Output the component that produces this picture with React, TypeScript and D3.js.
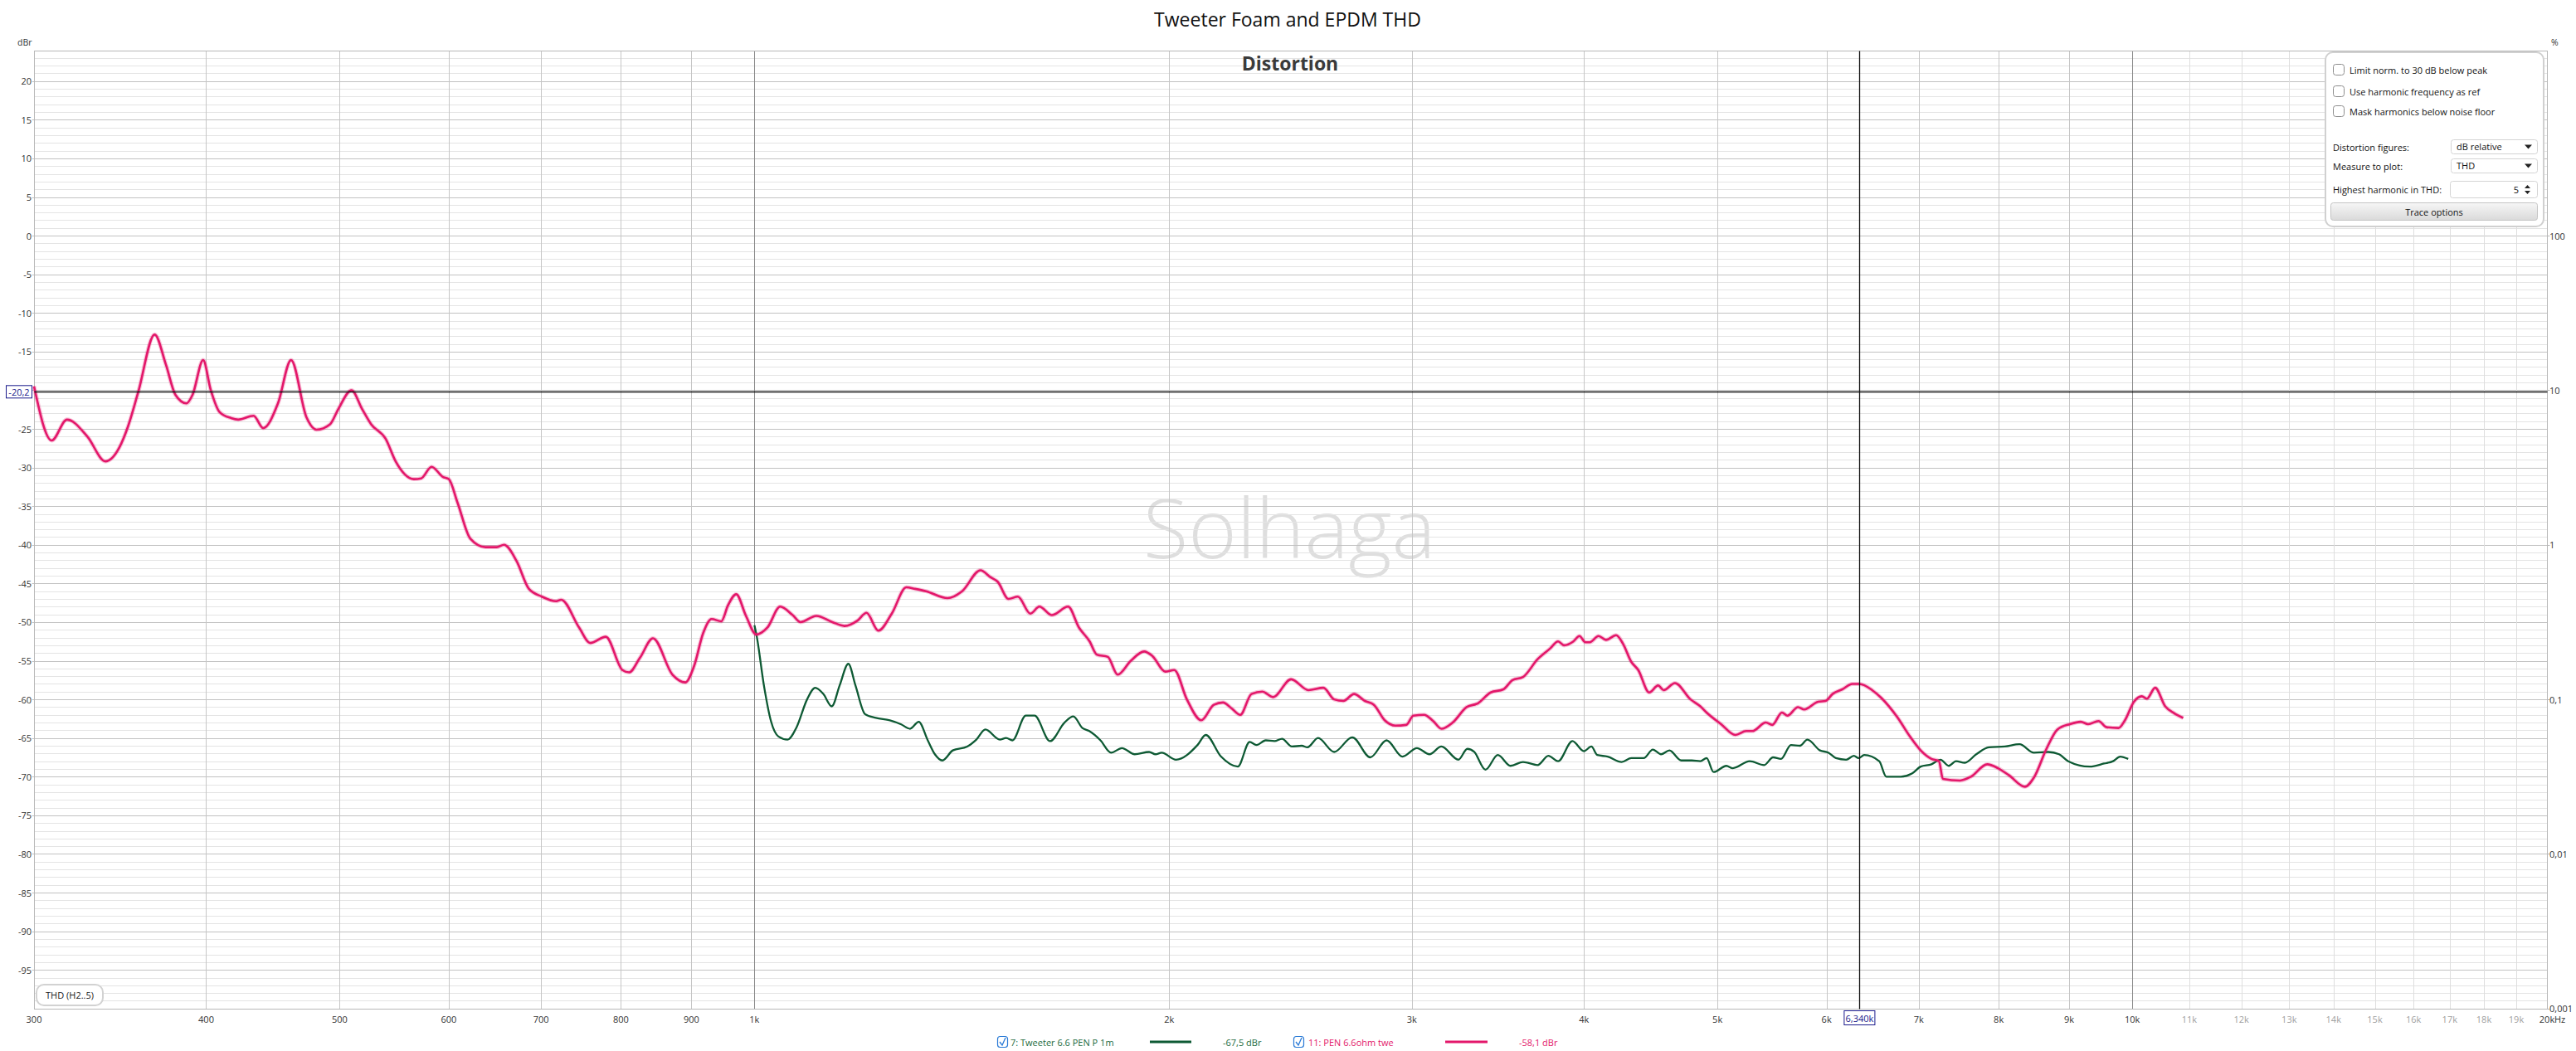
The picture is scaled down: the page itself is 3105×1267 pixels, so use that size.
import React from 'react';
import * as d3 from 'd3';

// REW-style THD plot: two traces, dBr on the left, % on the right

const W = 3105;
const H = 1267;
const FONT = '"Segoe UI", "Open Sans", "Noto Sans", sans-serif';

// 11: PEN 6.6ohm twe (pink)
const pinkFreq = [
  300, 309, 317, 328, 338, 346, 351, 357, 367, 374, 380, 387, 391, 398, 403, 409, 417, 422, 433, 440,
  451, 461, 473, 481, 492, 499, 510, 519, 527, 540, 549, 566, 573, 583, 594, 600, 609, 622, 638, 650,
  658, 672, 686, 701, 718, 724, 746, 760, 780, 802, 811, 826, 844, 872, 891, 904, 918, 931, 946, 957,
  970, 986, 1003, 1022, 1044, 1066, 1080, 1109, 1139, 1163, 1188, 1206, 1230, 1258, 1289, 1308, 1332, 1381, 1415, 1459,
  1484, 1502, 1529, 1553, 1586, 1610, 1644, 1689, 1720, 1751, 1772, 1805, 1835, 1876, 1918, 1945, 1987, 2017, 2060, 2110,
  2155, 2188, 2221, 2252, 2295, 2337, 2379, 2452, 2524, 2588, 2635, 2676, 2724, 2774, 2816, 2867, 2919, 2972, 3008, 3062,
  3109, 3152, 3212, 3288, 3351, 3423, 3496, 3550, 3613, 3702, 3781, 3831, 3870, 3930, 3970, 4010, 4040, 4099, 4150, 4221,
  4270, 4328, 4380, 4461, 4528, 4570, 4657, 4780, 4859, 4910, 5030, 5152, 5246, 5300, 5421, 5480, 5569, 5620, 5720, 5780,
  5916, 5990, 6061, 6160, 6264, 6340, 6475, 6574, 6753, 6897, 7022, 7150, 7240, 7288, 7500, 7637, 7848, 7990, 8136, 8359,
  8486, 8665, 8825, 9012, 9175, 9290, 9452, 9580, 9774, 9880, 10029, 10161, 10250, 10391, 10567, 10727, 10889,
];
const pinkDb = [
  -19.5, -26.5, -23.8, -26.0, -29.2, -27.4, -24.7, -20.3, -12.8, -16.7, -20.6, -21.7, -20.6, -16.1, -19.9, -22.8, -23.6, -23.8, -23.3, -24.9,
  -21.7, -16.1, -23.5, -25.1, -24.4, -22.4, -20.0, -22.4, -24.4, -26.3, -29.2, -31.5, -31.4, -29.9, -31.2, -31.5, -34.6, -39.2, -40.3, -40.3,
  -40.0, -42.1, -45.7, -46.7, -47.3, -47.1, -50.7, -52.7, -51.9, -56.2, -56.5, -54.6, -52.1, -56.8, -57.8, -55.7, -51.4, -49.6, -49.9, -47.8,
  -46.4, -49.2, -51.6, -50.7, -48.0, -49.1, -50.0, -49.2, -50.0, -50.5, -49.8, -48.8, -51.1, -48.9, -45.5, -45.7, -46.0, -46.9, -46.0, -43.3,
  -44.2, -44.8, -47.0, -46.7, -48.9, -48.0, -49.1, -48.0, -50.7, -52.5, -54.2, -54.5, -56.8, -55.0, -53.8, -54.4, -56.4, -56.2, -60.0, -62.7,
  -60.7, -60.4, -61.2, -62.0, -59.3, -59.0, -59.7, -57.4, -58.8, -58.5, -60.0, -60.2, -59.3, -60.2, -60.7, -62.7, -63.4, -63.3, -62.1, -62.0,
  -62.8, -63.8, -63.0, -61.0, -60.5, -59.1, -58.7, -57.5, -57.1, -54.8, -53.4, -52.5, -53.0, -52.5, -51.8, -52.6, -52.6, -51.8, -52.3, -51.7,
  -52.8, -55.1, -56.2, -59.1, -58.2, -58.8, -57.9, -60.0, -60.9, -61.7, -63.2, -64.6, -64.1, -64.1, -63.0, -63.3, -61.7, -62.1, -61.0, -61.3,
  -60.3, -60.2, -59.3, -58.7, -58.0, -58.0, -58.8, -59.8, -62.3, -64.8, -66.6, -67.7, -68.0, -70.3, -70.5, -70.0, -68.4, -68.9, -69.8, -71.3,
  -70.1, -66.4, -63.9, -63.2, -62.9, -63.2, -62.8, -63.6, -63.7, -62.7, -60.3, -59.6, -59.9, -58.5, -60.9, -61.8, -62.4,
];

// 7: Tweeter 6.6 PEN P 1m (green)
const greenFreq = [
  1000, 1004, 1016, 1028, 1041, 1057, 1073, 1092, 1107, 1122, 1138, 1153, 1170, 1184, 1203, 1225, 1254, 1277, 1297, 1316,
  1336, 1352, 1369, 1393, 1427, 1449, 1471, 1507, 1523, 1539, 1574, 1597, 1639, 1679, 1704, 1730, 1750, 1783, 1815, 1848,
  1888, 1934, 1955, 1975, 2023, 2097, 2126, 2181, 2243, 2288, 2314, 2350, 2385, 2415, 2455, 2496, 2520, 2565, 2635, 2716,
  2799, 2876, 2954, 3026, 3090, 3152, 3243, 3292, 3330, 3393, 3464, 3538, 3613, 3702, 3769, 3831, 3924, 4000, 4050, 4090,
  4162, 4260, 4330, 4420, 4488, 4550, 4614, 4707, 4790, 4859, 4910, 4968, 5075, 5130, 5277, 5406, 5487, 5560, 5654, 5740,
  5811, 5934, 6020, 6095, 6200, 6280, 6330, 6390, 6552, 6630, 6793, 6920, 7022, 7150, 7258, 7360, 7450, 7560, 7706, 7869,
  8084, 8283, 8486, 8692, 8850, 8986, 9315, 9541, 9685, 9802, 9933,
];
const greenDb = [
  -50.4, -51.9, -58.2, -62.8, -64.8, -65.2, -63.6, -60.0, -58.5, -59.3, -60.9, -58.2, -55.4, -58.2, -61.9, -62.4, -62.7, -63.2, -63.8, -62.9,
  -65.3, -67.1, -67.9, -66.6, -66.1, -65.2, -63.9, -65.2, -65.0, -65.3, -62.1, -62.1, -65.4, -63.0, -62.2, -63.7, -64.1, -65.3, -66.9, -66.3,
  -67.1, -66.8, -67.1, -66.9, -67.8, -65.9, -64.6, -67.4, -68.7, -65.5, -65.9, -65.3, -65.4, -65.1, -66.1, -66.0, -66.2, -65.0, -66.8, -64.9,
  -67.5, -65.3, -67.4, -66.3, -67.1, -66.1, -67.8, -66.4, -66.8, -69.1, -67.2, -68.6, -68.1, -68.5, -67.3, -68.0, -65.4, -66.7, -66.1, -67.2,
  -67.4, -68.1, -67.6, -67.6, -66.5, -67.1, -66.6, -67.9, -67.9, -68.0, -67.6, -69.4, -68.6, -68.9, -68.0, -68.5, -67.5, -67.7, -65.9, -66.0,
  -65.2, -66.6, -66.9, -67.6, -67.8, -67.3, -67.6, -67.2, -68.0, -70.0, -70.0, -69.6, -68.7, -68.4, -67.8, -68.6, -68.0, -68.2, -67.1, -66.2,
  -66.1, -65.8, -66.9, -66.8, -67.1, -68.0, -68.7, -68.3, -68.0, -67.4, -67.7,
];

// axis ticks
const dbTicks = [20, 15, 10, 5, 0, -5, -10, -15, -20, -25, -30, -35, -40, -45, -50, -55, -60, -65, -70, -75, -80, -85, -90, -95];
const freqTicks = [
  300, 400, 500, 600, 700, 800, 900, 1000, 2000, 3000, 4000, 5000, 6000, 7000, 8000, 9000, 10000,
  11000, 12000, 13000, 14000, 15000, 16000, 17000, 18000, 19000, 20000,
];
const freqLabels = [
  '300', '400', '500', '600', '700', '800', '900', '1k', '2k', '3k', '4k', '5k', '6k', '7k', '8k', '9k', '10k',
  '11k', '12k', '13k', '14k', '15k', '16k', '17k', '18k', '19k', '20k',
];
const pctTicks = [100, 10, 1, 0.1, 0.01, 0.001];
const pctLabels = ['100', '10', '1', '0,1', '0,01', '0,001'];

const cursorFreq = 6340;
const cursorDb = -20.2;

const PINK = '#e3176a';
const GREEN = '#0e5a34';

const crisp = (v: number) => Math.round(v) + 0.5;

function Checkbox({ x, y }: { x: number; y: number }) {
  return <rect x={x + 0.5} y={y + 0.5} width={13} height={13} rx={3} fill="#fff" stroke="#8c8c8c" strokeWidth={1} />;
}

function Dropdown({ x, y, w, h, label }: { x: number; y: number; w: number; h: number; label: string }) {
  return (
    <g>
      <rect x={x + 0.5} y={y + 0.5} width={w} height={h} rx={3} fill="#fff" stroke="#d4d4d4" />
      <text x={x + 7} y={y + h / 2} dominantBaseline="central" fontSize={11} fill="#111">{label}</text>
      <path d={`M${x + w - 15},${y + h / 2 - 2} h9 l-4.5,5 z`} fill="#222" />
    </g>
  );
}

export default function App() {
  const margin = { left: 41, right: 3070, top: 60.5, bottom: 1215.8 };

  const x = d3.scaleLog().domain([300, 20000]).range([margin.left, margin.right]);
  const y = d3.scaleLinear().domain([-100, 24]).range([margin.bottom, margin.top]);
  const yPct = d3.scaleLog().domain([0.001, 100]).range([y(-100), y(0)]);

  const line = d3
    .line<[number, number]>()
    .x((d) => x(d[0]))
    .y((d) => y(d[1]))
    .curve(d3.curveMonotoneX);

  const pinkPts = pinkFreq.map((f, i) => [f, pinkDb[i]] as [number, number]);
  const greenPts = greenFreq.map((f, i) => [f, greenDb[i]] as [number, number]);

  const minorDb = d3.range(-99, 24).filter((v) => v % 5 !== 0);

  const L = crisp(margin.left);
  const R = crisp(margin.right);
  const T = crisp(margin.top);
  const B = crisp(margin.bottom);

  const vColor = (f: number) => {
    if (f === 1000 || f === 10000) return '#8a8a8a';
    if (f > 10000) return '#dedede';
    return '#c6c6c6';
  };

  // the cursor readout box sits on top of the -20 label, so that one is not drawn
  const shownDbTicks = dbTicks.filter((v) => Math.abs(v - cursorDb) > 2);

  return (
    <svg
      width={W}
      height={H}
      viewBox={`0 0 ${W} ${H}`}
      style={{ position: 'absolute', left: 0, top: 0, background: '#fff' }}
      fontFamily={FONT}
    >
      <rect x={0} y={0} width={W} height={H} fill="#fff" />

      {/* titles */}
      <text x={1552} y={32} textAnchor="middle" fontSize={23} fill="#111">Tweeter Foam and EPDM THD</text>

      {/* watermark */}
      <text x={1554} y={673} textAnchor="middle" fontSize={100} fontWeight={300} fill="#dedede">Solhaga</text>

      {/* minor horizontal grid */}
      {minorDb.map((v) => (
        <line key={`mn${v}`} x1={L} x2={R} y1={crisp(y(v))} y2={crisp(y(v))} stroke="#e4e4e4" strokeWidth={1} />
      ))}
      {/* major horizontal grid */}
      {dbTicks.map((v) => (
        <line key={`mj${v}`} x1={L - 3} x2={R} y1={crisp(y(v))} y2={crisp(y(v))} stroke="#c2c2c2" strokeWidth={1} />
      ))}
      {/* vertical grid */}
      {freqTicks.slice(1, -1).map((f) => (
        <line key={`v${f}`} x1={crisp(x(f))} x2={crisp(x(f))} y1={T} y2={B} stroke={vColor(f)} strokeWidth={1} />
      ))}

      {/* plot frame */}
      <rect x={L} y={T} width={R - L} height={B - T} fill="none" stroke="#b8b8b8" strokeWidth={1} />

      <text x={1555} y={85} textAnchor="middle" fontSize={23} fontWeight="bold" fill="#3a3a3a">Distortion</text>

      {/* left axis labels */}
      <text x={21} y={51} dominantBaseline="central" fontSize={10.5} fill="#333">dBr</text>
      {shownDbTicks.map((v) => (
        <text key={`yl${v}`} x={38} y={y(v)} textAnchor="end" dominantBaseline="central" fontSize={11} fill="#333">
          {String(v)}
        </text>
      ))}

      {/* right % axis */}
      <text x={3075} y={51} dominantBaseline="central" fontSize={10.5} fill="#333">%</text>
      {pctTicks.map((p, i) => (
        <g key={`pt${p}`}>
          <line x1={R} x2={R + 3} y1={crisp(yPct(p))} y2={crisp(yPct(p))} stroke="#b8b8b8" />
          <text x={3073} y={yPct(p)} dominantBaseline="central" fontSize={11} fill="#333">{pctLabels[i]}</text>
        </g>
      ))}

      {/* frequency labels */}
      {freqTicks.map((f, i) => {
        const lbl = freqLabels[i];
        const light = f > 10000 && f < 20000;
        return (
          <text key={`xl${f}`} x={x(f)} y={1233} textAnchor="middle" fontSize={11} fill={light ? '#a0a0a0' : '#333'}>
            {lbl}
          </text>
        );
      })}
      <text x={x(20000) + 9} y={1233} fontSize={11} fill="#333">Hz</text>

      {/* traces */}
      <path d={line(greenPts) ?? ''} fill="none" stroke={GREEN} strokeWidth={2.3} strokeLinejoin="round" />
      <path d={line(pinkPts) ?? ''} fill="none" stroke={PINK} strokeOpacity={0.25} strokeWidth={5} strokeLinejoin="round" />
      <path d={line(pinkPts) ?? ''} fill="none" stroke={PINK} strokeWidth={2.6} strokeLinejoin="round" />

      {/* cursors */}
      <line x1={L} x2={R} y1={crisp(y(cursorDb))} y2={crisp(y(cursorDb))} stroke="#111" strokeWidth={1.3} />
      <line x1={crisp(x(cursorFreq))} x2={crisp(x(cursorFreq))} y1={T} y2={B} stroke="#111" strokeWidth={1.3} />
      <rect x={7.5} y={y(cursorDb) - 7.5} width={31} height={15} fill="#fff" stroke="#1a1a8c" strokeWidth={1} />
      <text x={23} y={y(cursorDb)} textAnchor="middle" dominantBaseline="central" fontSize={11} fill="#1a1a8c">-20,2</text>
      <rect x={x(cursorFreq) - 18.5} y={1218.5} width={37} height={17} fill="#fff" stroke="#1a1a8c" strokeWidth={1} />
      <text x={x(cursorFreq)} y={1227} textAnchor="middle" dominantBaseline="central" fontSize={11} fill="#1a1a8c">6,340k</text>

      {/* THD badge */}
      <rect x={44} y={1187} width={80} height={25} rx={9} fill="#fff" stroke="#d2d2d2" strokeWidth={2} />
      <text x={84} y={1199.5} textAnchor="middle" dominantBaseline="central" fontSize={11} fill="#222">THD (H2..5)</text>

      {/* control panel */}
      <g>
        <rect x={2803} y={63} width={263} height={210} rx={9} fill="#fff" stroke="#d0d0d0" strokeWidth={2} />
        <Checkbox x={2812} y={77} />
        <text x={2832} y={84} dominantBaseline="central" fontSize={11} fill="#111">Limit norm. to 30 dB below peak</text>
        <Checkbox x={2812} y={103} />
        <text x={2832} y={110} dominantBaseline="central" fontSize={11} fill="#111">Use harmonic frequency as ref</text>
        <Checkbox x={2812} y={127} />
        <text x={2832} y={134} dominantBaseline="central" fontSize={11} fill="#111">Mask harmonics below noise floor</text>

        <text x={2812} y={177} dominantBaseline="central" fontSize={11} fill="#111">Distortion figures:</text>
        <Dropdown x={2954} y={168} w={104} h={17} label="dB relative" />
        <text x={2812} y={200} dominantBaseline="central" fontSize={11} fill="#111">Measure to plot:</text>
        <Dropdown x={2954} y={191} w={104} h={17} label="THD" />
        <text x={2812} y={228} dominantBaseline="central" fontSize={11} fill="#111">Highest harmonic in THD:</text>
        <rect x={2953.5} y={218.5} width={105} height={20} rx={3} fill="#fff" stroke="#d4d4d4" />
        <text x={3036} y={228.5} textAnchor="end" dominantBaseline="central" fontSize={11} fill="#111">5</text>
        <path d="M3043,227 l3.5,-4 l3.5,4 z M3043,230 l3.5,4 l3.5,-4 z" fill="#222" />

        <defs>
          <linearGradient id="btn" x1="0" x2="0" y1="0" y2="1">
            <stop offset="0" stopColor="#f6f6f6" />
            <stop offset="1" stopColor="#dadada" />
          </linearGradient>
        </defs>
        <rect x={2809.5} y={244.5} width={249} height={21} rx={3} fill="url(#btn)" stroke="#c4c4c4" />
        <text x={2934} y={255} textAnchor="middle" dominantBaseline="central" fontSize={11} fill="#111">Trace options</text>
      </g>

      {/* legend */}
      <g>
        <rect x={1202.5} y={1249.5} width={12} height={13} rx={3} fill="#fff" stroke="#2b7bd6" strokeWidth={1.2} />
        <path d="M1205,1256 l3,4 l4,-9" fill="none" stroke="#2b7bd6" strokeWidth={1.3} />
        <text x={1218} y={1256} dominantBaseline="central" fontSize={11} fill="#1b6a40">7: Tweeter 6.6 PEN P 1m</text>
        <line x1={1386} x2={1436} y1={1256} y2={1256} stroke={GREEN} strokeWidth={3} />
        <text x={1474} y={1256} dominantBaseline="central" fontSize={11} fill="#1b6a40">-67,5 dBr</text>

        <rect x={1559.5} y={1249.5} width={12} height={13} rx={3} fill="#fff" stroke="#2b7bd6" strokeWidth={1.2} />
        <path d="M1562,1256 l3,4 l4,-9" fill="none" stroke="#2b7bd6" strokeWidth={1.3} />
        <text x={1577} y={1256} dominantBaseline="central" fontSize={11} fill={PINK}>11: PEN 6.6ohm twe</text>
        <line x1={1742} x2={1793} y1={1256} y2={1256} stroke={PINK} strokeWidth={3} />
        <text x={1831} y={1256} dominantBaseline="central" fontSize={11} fill={PINK}>-58,1 dBr</text>
      </g>
    </svg>
  );
}
